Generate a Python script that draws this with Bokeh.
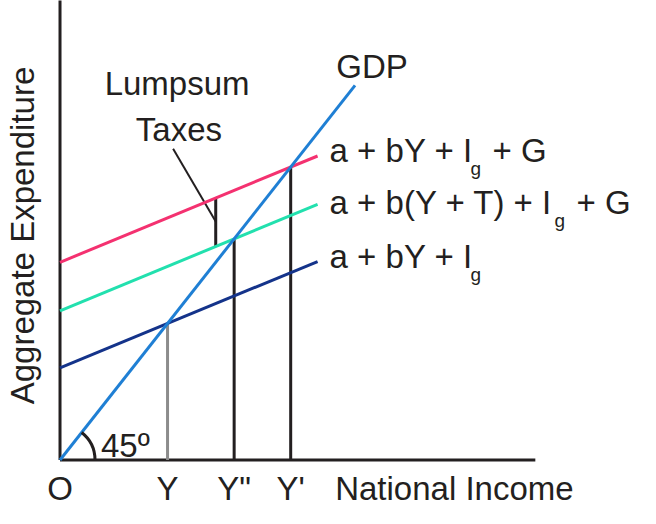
from bokeh.plotting import figure
from bokeh.models import ColumnDataSource, Range1d
from bokeh.core.properties import value
from bokeh.embed import file_html
from bokeh.resources import INLINE
import numpy as np

# values (45 degree GDP line is y = x)
curve_main = ["a + bY + I", "a + b(Y + T) + I", "a + bY + I"]
curve_tail = ["", "+ G", "+ G"]
intercepts = [3.10, 5.02, 6.65]
mpc = 0.325
ae_x_end = 11.0
gdp_x_end = 12.6
tax_x = 6.65
income_labels = ["O", "Y", 'Y"', "Y'"]
curve_colors = ["#14338a", "#22e0ae", "#f43170"]
drop_colors = ["#8c8c8c", "#231f20", "#231f20"]

# layout: pixels per data unit and where the origin sits
W, H = 640, 508
SX, SY = W / 656, H / 524
XPX, YPX = 24.0 * SX, 30.67 * SY
OX, OY = 61 * SX, 50 * SY
FONT = value("Liberation Sans")
FS = "33px"
INK = "#231f20"
LIFT = -9  # svg text sits low with an alphabetic baseline

p = figure(width=W, height=H, output_backend="svg", toolbar_location=None,
           min_border=0, outline_line_color=None,
           x_range=Range1d(-OX / XPX, (W - OX) / XPX),
           y_range=Range1d(-OY / YPX, (H - OY) / YPX))
p.axis.visible = False
p.grid.visible = False

eq = [a / (1 - mpc) for a in intercepts]
y_end = [a + mpc * ae_x_end for a in intercepts]

# axes
p.segment(x0=[0, 0], y0=[0, 0], x1=[20.3, 0], y1=[0, 16], line_color=INK, line_width=3)

# drop lines from equilibria
p.segment(x0=eq, y0=[0] * 3, x1=eq, y1=eq, line_color=drop_colors, line_width=3)

# lumpsum tax bracket
p.segment(x0=[tax_x], y0=[intercepts[1] + mpc * tax_x], x1=[tax_x],
          y1=[intercepts[2] + mpc * tax_x], line_color=INK, line_width=3)
p.segment(x0=[4.83], y0=[10.47], x1=[tax_x], y1=[8.02], line_color=INK, line_width=2)

src = ColumnDataSource(dict(x0=[0] * 3, y0=intercepts, x1=[ae_x_end] * 3, y1=y_end,
                            color=curve_colors, main=curve_main, tail=curve_tail,
                            yo=[4 + LIFT, 7 + LIFT, 3 + LIFT],
                            gyo=[13, 16, 12],
                            gx=[153, 237, 153], tx=[175, 259, 175]))
p.segment(x0="x0", y0="y0", x1="x1", y1="y1", line_color="color", line_width=3, source=src)

# GDP line
p.line(x=[0, gdp_x_end], y=[0, gdp_x_end], line_color="#1f7fd4", line_width=3)
p.arc(x=[0], y=[0], radius=35, radius_units="screen", start_angle=0,
      end_angle=float(np.arctan2(YPX, XPX)), line_color=INK, line_width=3)

# curve labels with subscript g
p.text(x="x1", y="y1", text="main", x_offset=12, y_offset="yo", text_font=FONT,
       text_font_size=FS, text_color=INK, text_baseline="alphabetic", source=src)
p.text(x="x1", y="y1", text=value("g"), x_offset="gx", y_offset="gyo", text_font=FONT,
       text_font_size="19px", text_color=INK, text_baseline="alphabetic", source=src)
p.text(x="x1", y="y1", text="tail", x_offset="tx", y_offset="yo", text_font=FONT,
       text_font_size=FS, text_color=INK, text_baseline="alphabetic", source=src)

p.text(x=[gdp_x_end], y=[gdp_x_end], text=["GDP"], x_offset=17, y_offset=-10 + LIFT,
       text_font=FONT, text_font_size=FS, text_color=INK,
       text_align="center", text_baseline="alphabetic")

p.text(x=[5.0, 5.08], y=[12.37, 10.82], text=["Lumpsum", "Taxes"], y_offset=LIFT,
       text_font=FONT, text_font_size=FS, text_color=INK,
       text_align="center", text_baseline="alphabetic")

p.text(x=[0], y=[0], text=["45º"], x_offset=41, y_offset=-6 + LIFT, text_font=FONT,
       text_font_size=FS, text_color=INK, text_baseline="alphabetic")

# income tick labels
p.text(x=[0] + eq, y=[0] * 4, text=income_labels, y_offset=37 + LIFT, text_font=FONT,
       text_font_size=FS, text_color=INK, text_align="center", text_baseline="alphabetic")
p.text(x=[11.75], y=[0], text=["National Income"], y_offset=37 + LIFT, text_font=FONT,
       text_font_size=FS, text_color=INK, text_baseline="alphabetic")

p.text(x=[-1.2], y=[7.55], text=["Aggregate Expenditure"], angle=np.pi / 2,
       x_offset=LIFT, text_font=FONT, text_font_size=FS, text_color=INK,
       text_align="center", text_baseline="alphabetic")

open("out.html", "w").write(file_html(p, INLINE))
